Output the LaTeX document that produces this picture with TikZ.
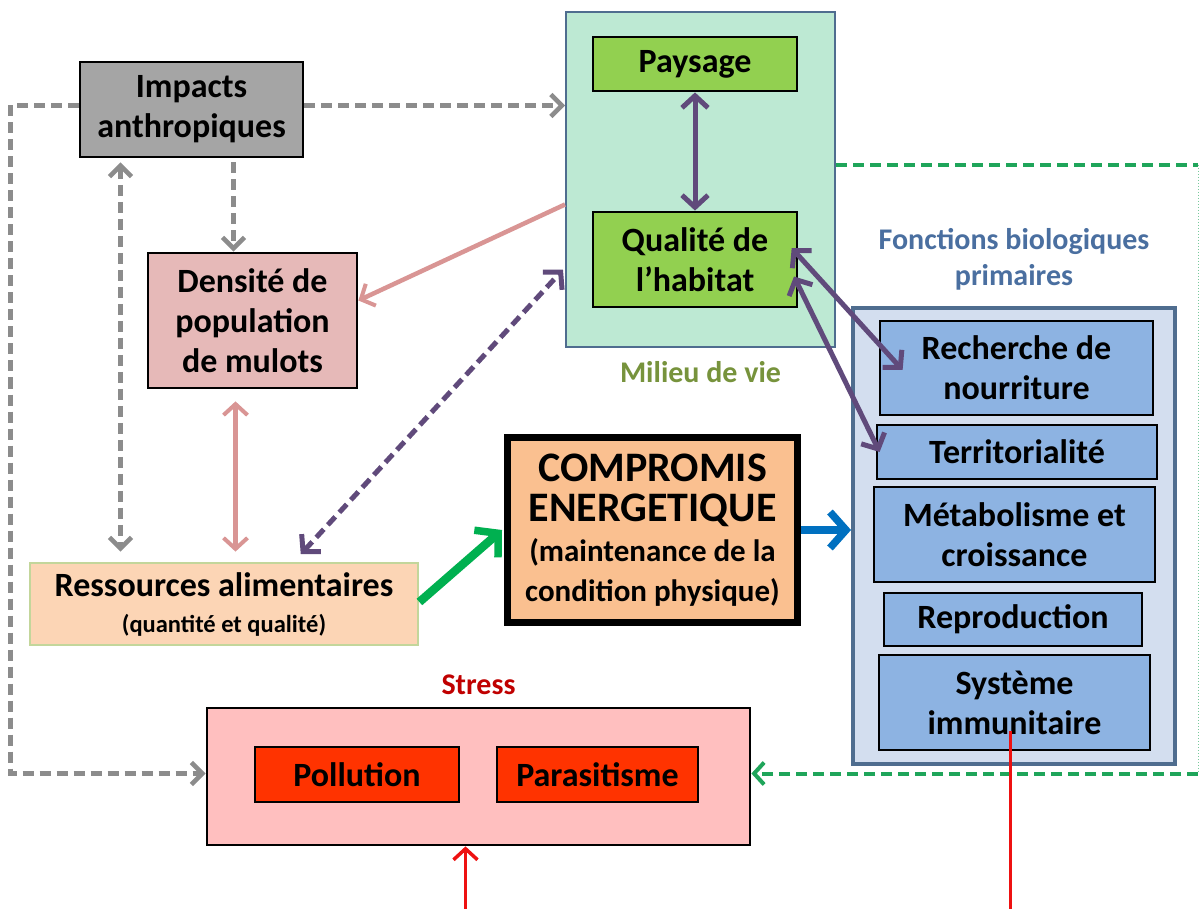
\documentclass[tikz,border=0pt]{standalone}
\usepackage{fontspec}
\setmainfont{Carlito}
\usepackage{tikz}
\usetikzlibrary{calc, arrows.meta}
\usepackage{xcolor}

\definecolor{impactgray}{HTML}{A5A5A5}
\definecolor{densitepink}{HTML}{E6B9B8}
\definecolor{ressfill}{HTML}{FCD5B5}
\definecolor{ressline}{HTML}{C3D69B}
\definecolor{milieufill}{HTML}{BDE9D3}
\definecolor{frameblue}{HTML}{4F6D8F}
\definecolor{habgreen}{HTML}{92D050}
\definecolor{fonctfill}{HTML}{D3DEEF}
\definecolor{fonctbox}{HTML}{8DB3E2}
\definecolor{comprfill}{HTML}{FAC090}
\definecolor{stressfill}{HTML}{FFBFBF}
\definecolor{stressbox}{HTML}{FF3300}
\definecolor{stresslabel}{HTML}{C00000}
\definecolor{milieulabel}{HTML}{77933C}
\definecolor{fonctlabel}{HTML}{4A6FA0}
\definecolor{arrgray}{HTML}{8C8C8C}
\definecolor{arrpink}{HTML}{D99594}
\definecolor{arrpurple}{HTML}{604A7B}
\definecolor{arrgreen}{HTML}{00B050}
\definecolor{arrblue}{HTML}{0070C0}
\definecolor{arrdash}{HTML}{1FA55A}
\definecolor{arrred}{HTML}{EE1111}

\tikzset{
  box/.style={draw=black, line width=2.8pt, inner sep=0pt, align=center,
    font=\fontsize{34}{40}\selectfont\bfseries},
  frame/.style={draw=frameblue, inner sep=0pt},
  tag/.style={font=\fontsize{30}{36}\selectfont\bfseries},
  graytip/.tip={Straight Barb[length=11pt, width=22pt, line width=4.5pt]},
  purpletip/.tip={Straight Barb[length=12pt, width=26pt, line width=5pt]},
  pinktip/.tip={Straight Barb[length=11pt, width=24pt, line width=4pt]},
  grayarrow/.style={draw=arrgray, line width=5pt, dash pattern=on 11pt off 6pt, -graytip},
  purplearrow/.style={draw=arrpurple, line width=5pt, purpletip-purpletip},
  thickarrow/.style={line width=8.5pt,
    -{Straight Barb[length=16pt, width=36pt, line width=7.5pt]}}
}

\begin{document}
\begin{tikzpicture}[x=1pt, y=-1pt]

    % Page size of the reference
    \useasboundingbox[fill=white] (0,0) rectangle (1200,909);

    % Containers first
    \node[frame, line width=2pt, fill=milieufill, minimum width=269pt, minimum height=335pt] (milieu) at (700.5,179.5) {};
    \node[frame, line width=4pt, fill=fonctfill, minimum width=322pt, minimum height=456pt] (fonct) at (1014,536) {};
    \node[box, fill=stressfill, minimum width=543pt, minimum height=137pt] (stress) at (478.5,776.5) {};

    % Group labels
    \node[tag, text=milieulabel, anchor=north] (milieuTag) at ([yshift=-10pt]milieu.south) {Milieu de vie};
    \node[tag, text=fonctlabel, align=center, anchor=south] (fonctTag) at ([yshift=12pt]fonct.north) {Fonctions biologiques\\primaires};
    \node[tag, text=stresslabel, anchor=south] (stressTag) at ([yshift=8pt]stress.north) {Stress};

    % Left column
    \node[box, fill=impactgray, minimum width=223pt, minimum height=95pt] (impacts) at (191.5,109.5) {Impacts\\anthropiques};
    \node[box, fill=densitepink, minimum width=209pt, minimum height=135pt] (densite) at (252.5,320.5) {Densit\'e de\\population\\de mulots};
    \node[box, draw=ressline, fill=ressfill, minimum width=388pt, minimum height=82pt] (ress) at (224,604)
        {Ressources alimentaires\\[-4pt]{\fontsize{24.5}{28}\selectfont (quantit\'e et qualit\'e)}};

    % Milieu de vie
    \node[box, fill=habgreen, minimum width=204pt, minimum height=54pt] (paysage) at (695,64) {Paysage};
    \node[box, fill=habgreen, minimum width=204pt, minimum height=95pt] (habitat) at (695,259.5) {Qualit\'e de\\l'habitat};

    % Compromis
    \node[box, line width=7pt, fill=comprfill, minimum width=290pt, minimum height=185pt] (compromis) at (652.5,530)
        {{\fontsize{42}{49}\selectfont COMPROMIS}\\{\fontsize{42}{49}\selectfont ENERGETIQUE}\\
         {\fontsize{31}{40}\selectfont (maintenance de la}\\{\fontsize{31}{40}\selectfont condition physique)}};

    % Fonctions biologiques
    \node[box, fill=fonctbox, minimum width=273pt, minimum height=94pt] (recherche) at (1016.5,368) {Recherche de\\nourriture};
    \node[box, fill=fonctbox, minimum width=280pt, minimum height=54pt] (territ) at (1017,452) {Territorialit\'e};
    \node[box, fill=fonctbox, minimum width=281pt, minimum height=95pt] (metab) at (1014.5,534.5) {M\'etabolisme et\\croissance};
    \node[box, fill=fonctbox, minimum width=258pt, minimum height=53pt] (repro) at (1013,619.5) {Reproduction};
    \node[box, fill=fonctbox, minimum width=271pt, minimum height=95pt] (systeme) at (1014.5,702.5) {Syst\`eme\\immunitaire};

    % Stress
    \node[box, fill=stressbox, minimum width=204pt, minimum height=55pt] (pollution) at (357,774.5) {Pollution};
    \node[box, fill=stressbox, minimum width=201pt, minimum height=55pt] (parasit) at (597.5,774.5) {Parasitisme};

    % Gray dashed links from the human impacts
    \draw[grayarrow] ([yshift=4pt]impacts.east) -- ([yshift=4pt]impacts.east -| milieu.west);
    \draw[grayarrow, shorten <=4pt] ([xshift=42pt]impacts.south) -- ([xshift=42pt]impacts.south |- densite.north);
    \draw[grayarrow, graytip-graytip, shorten <=4pt, shorten >=10pt]
        ([xshift=-71pt]impacts.south) -- ([xshift=-71pt]impacts.south |- ress.north);
    \draw[grayarrow] ([yshift=4pt]impacts.west) -- ++(-68,0) |- ([yshift=3pt]stress.west);

    % Pink links of the mice density
    \draw[draw=arrpink, line width=4.5pt, -pinktip]
        ([yshift=-25pt]milieu.west) -- ([yshift=20pt]densite.east);
    \draw[draw=arrpink, line width=4.5pt, pinktip-pinktip, shorten <=12pt, shorten >=10pt]
        ([xshift=-17pt]densite.south) -- ([xshift=-17pt]densite.south |- ress.north);

    % Purple links of the habitat
    \draw[purplearrow, dash pattern=on 11pt off 6pt, shorten <=10pt, shorten >=3pt]
        ([xshift=70pt]ress.north) -- ([yshift=-88pt]milieu.west);
    \draw[purplearrow] (paysage.south) -- (habitat.north);
    \draw[purplearrow, shorten <=-10pt] ([yshift=4pt]habitat.east) -- ([xshift=24pt,yshift=-2pt]recherche.west);
    \draw[purplearrow, shorten <=-10pt] ([yshift=-26pt]habitat.east) -- ([xshift=4pt]territ.west);

    % Energy flow
    \draw[thickarrow, draw=arrgreen] ([yshift=2pt]ress.east) -- ([xshift=-2pt]compromis.west);
    \draw[thickarrow, draw=arrblue] (compromis.east) -- (compromis.east -| fonct.west);

    % Feedback loops
    \coordinate (loopNE) at (1198,165);
    \coordinate (loopSE) at ([yshift=3pt]stress.east -| loopNE);
    \draw[draw=arrdash, line width=4pt, dash pattern=on 11pt off 6pt] ([yshift=14.5pt]milieu.east) -- (loopNE);
    \draw[draw=arrdash!60, line width=1pt, dotted] (loopNE) -- (loopSE);
    \draw[draw=arrdash, line width=4pt, dash pattern=on 11pt off 6pt, -{Straight Barb[length=10pt, width=22pt, line width=4pt]}]
        (loopSE) -- ([yshift=3pt]stress.east);
    \draw[draw=arrred, line width=3.5pt, -{Straight Barb[length=11pt, width=24pt, line width=3.5pt]}]
        ([xshift=-4pt,yshift=20pt]systeme.south) -- ++(0,181) -| ([xshift=-13pt]stress.south);

\end{tikzpicture}
\end{document}
